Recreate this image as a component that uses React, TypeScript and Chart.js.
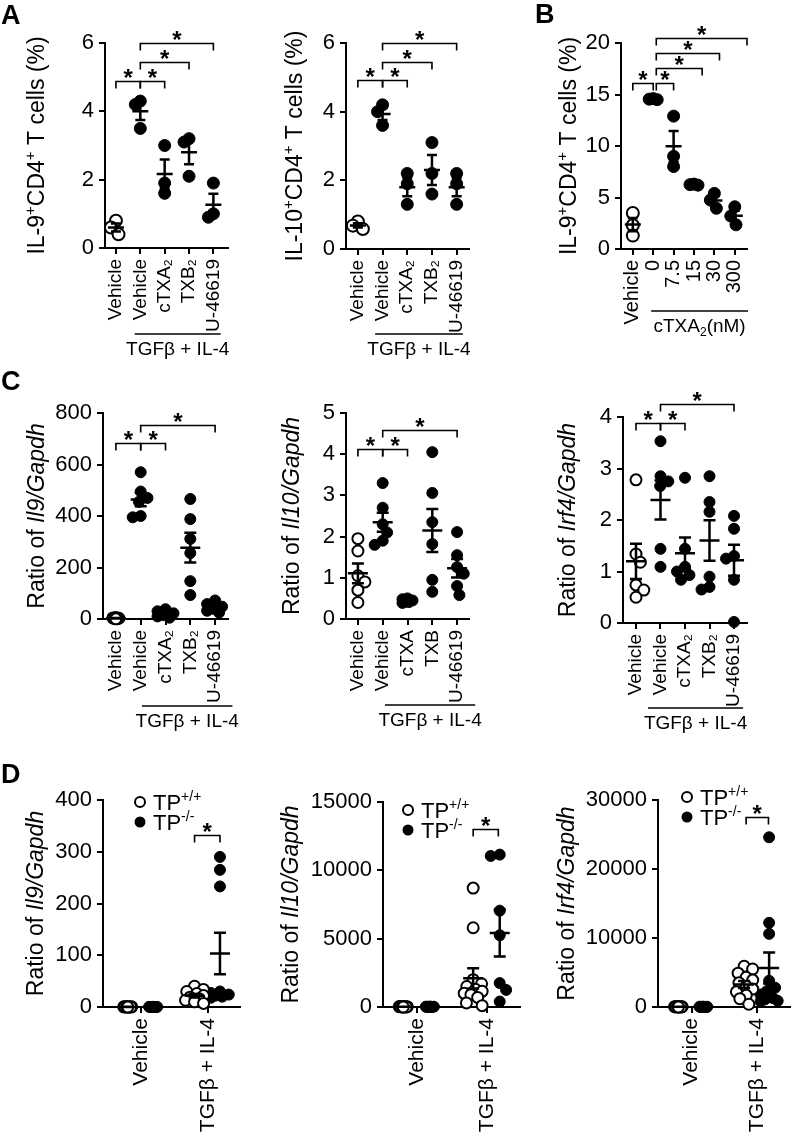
import React, { useEffect, useRef } from "react";
import { Chart, registerables } from "chart.js";

Chart.register(...registerables);

const FONT = "'Liberation Sans', Arial, Helvetica, sans-serif";
Chart.defaults.font.family = FONT;

// ---------- categories / tick labels ----------
const catsTreat = ["Vehicle", "Vehicle", "cTXA₂", "TXB₂", "U-46619"];
const catsTreatC2 = ["Vehicle", "Vehicle", "cTXA", "TXB", "U-46619"];
const catsDose = ["Vehicle", "0", "7.5", "15", "30", "300"];
const catsD = ["Vehicle", "TGFβ + IL-4"];

const yTicksA = [0, 2, 4, 6];
const yTicksB = [0, 5, 10, 15, 20];
const yTicksC1 = [0, 200, 400, 600, 800];
const yTicksC2 = [0, 1, 2, 3, 4, 5];
const yTicksC3 = [0, 1, 2, 3, 4];
const yTicksD1 = [0, 100, 200, 300, 400];
const yTicksD2 = [0, 5000, 10000, 15000];
const yTicksD3 = [0, 10000, 20000, 30000];

// ---------- A left: IL-9+CD4+ T cells (%) ----------
const a1Vehicle = [0.8, 0.6, 0.4];
const a1TgfVehicle = [4.3, 4.2, 3.5];
const a1Ctxa2 = [3.0, 1.9, 1.6];
const a1Txb2 = [3.2, 3.1, 2.1];
const a1U46619 = [1.9, 1.0, 0.9];

// ---------- A right: IL-10+CD4+ T cells (%) ----------
const a2Vehicle = [0.8, 0.68, 0.58];
const a2TgfVehicle = [4.2, 4.0, 3.6];
const a2Ctxa2 = [2.2, 1.9, 1.3];
const a2Txb2 = [3.1, 2.2, 1.6];
const a2U46619 = [2.2, 1.9, 1.3];

// ---------- B: IL-9+CD4+ T cells (%) vs cTXA2 dose ----------
const bVehicle = [3.5, 2.3, 1.3];
const bDose0 = [14.6, 14.55, 14.5];
const bDose7_5 = [12.9, 9.0, 8.0];
const bDose15 = [6.3, 6.25, 6.2];
const bDose30 = [5.4, 4.75, 3.95];
const bDose300 = [4.1, 3.2, 2.35];

// ---------- C left: Il9/Gapdh ----------
const c1Vehicle = [6, 4, 3, 2, 1, 0.5];
const c1TgfVehicle = [570, 495, 470, 455, 400, 395];
const c1Ctxa2 = [38, 30, 22, 15, 10, 5];
const c1Txb2 = [466, 388, 311, 256, 147, 93];
const c1U46619 = [72, 58, 48, 40, 32, 25];

// ---------- C middle: Il10/Gapdh ----------
const c2Vehicle = [1.95, 1.65, 1.05, 0.9, 0.7, 0.4];
const c2TgfVehicle = [3.3, 2.7, 2.3, 2.1, 1.9, 1.8];
const c2Ctxa = [0.5, 0.48, 0.45, 0.43, 0.41, 0.39];
const c2Txb = [4.05, 3.06, 2.35, 1.82, 0.95, 0.66];
const c2U46619 = [2.11, 1.55, 1.26, 1.1, 0.8, 0.58];

// ---------- C right: Irf4/Gapdh ----------
const c3Vehicle = [2.78, 1.34, 1.18, 0.74, 0.64, 0.5];
const c3TgfVehicle = [3.53, 2.85, 2.75, 2.66, 1.44, 1.09];
const c3Ctxa2 = [2.82, 1.44, 1.09, 1.0, 0.93, 0.84];
const c3Txb2 = [2.85, 2.35, 2.16, 0.9, 0.7, 0.65];
const c3U46619 = [2.08, 1.83, 1.3, 1.25, 0.84, 0.02];

// ---------- D left: Il9/Gapdh, TP+/+ vs TP-/- ----------
const d1VehWT = [0.5, 0.4, 0.3, 0.3, 0.2, 0.2, 0.1, 0.1, 0, 0];
const d1VehKO = [0.4, 0.3, 0.2, 0.2, 0.1, 0.1, 0, 0, 0];
const d1TgfWT = [40, 34, 30, 26, 22, 19, 16, 13, 10, 7];
const d1TgfKO = [290, 265, 233, 30, 27, 24, 22, 20, 18];

// ---------- D middle: Il10/Gapdh ----------
const d2VehWT = [40, 30, 25, 20, 15, 10, 8, 5, 2, 0];
const d2VehKO = [35, 25, 20, 15, 10, 5, 2, 0];
const d2TgfWT = [8700, 5800, 2000, 1700, 1500, 1300, 1150, 1000, 900, 700, 300, 100];
const d2TgfKO = [11150, 11050, 7050, 5250, 1750, 1250, 400];

// ---------- D right: Irf4/Gapdh ----------
const d3VehWT = [60, 50, 40, 30, 25, 20, 15, 10, 5, 0];
const d3VehKO = [50, 40, 30, 25, 20, 15, 10, 5, 0];
const d3TgfWT = [5900, 5500, 4900, 4300, 3900, 3500, 3000, 2600, 2200, 1700, 1200, 400];
const d3TgfKO = [24600, 12200, 10600, 3800, 2800, 2300, 1800, 1300, 1100, 900, 800];

// ---------- types & helpers ----------
type Part = { t: string; it?: boolean; sup?: boolean; sub?: boolean };
type Group = { x: number; values: number[]; open?: boolean; spread?: number };
type Panel = {
  id: string;
  box: number[]; // canvas: left, top, width, height (page px)
  area: number[]; // chart area: left, top, right, bottom (page px)
  xMin: number;
  xMax: number;
  xTicks: number[];
  xLabels: string[];
  xFont: number;
  yTicks: number[];
  groups: Group[];
  brackets: number[][];
  title: Part[];
  titleX: number;
  under?: { from: number; to: number; dy: number; parts: Part[] };
  legend?: { x: number; y: number };
  r: number;
  spread: number;
  meanHalf: number;
  capHalf: number;
};

const titleIL = (n: string): Part[] => [
  { t: "IL-" + n },
  { t: "+", sup: true },
  { t: "CD4" },
  { t: "+", sup: true },
  { t: " T cells (%)" },
];
const titleRatio = (gene: string): Part[] => [{ t: "Ratio of " }, { t: gene + "/Gapdh", it: true }];
const tgfParts: Part[] = [{ t: "TGFβ + IL-4" }];

const fontFor = (p: Part, size: number) => {
  const s = p.sup || p.sub ? Math.round(size * 0.65) : size;
  return `${p.it ? "italic " : ""}${s}px ${FONT}`;
};

function drawParts(ctx: any, parts: Part[], x: number, y: number, size: number, align: string) {
  const widths = parts.map((p) => {
    ctx.font = fontFor(p, size);
    return ctx.measureText(p.t).width;
  });
  const total = widths.reduce((a, b) => a + b, 0);
  let cx = align === "center" ? x - total / 2 : x;
  ctx.textAlign = "left";
  ctx.textBaseline = "alphabetic";
  parts.forEach((p, i) => {
    ctx.font = fontFor(p, size);
    const dy = p.sup ? -size * 0.4 : p.sub ? size * 0.22 : 0;
    ctx.fillText(p.t, cx, y + dy);
    cx += widths[i];
  });
}

function swarm(values: number[], pxY: number, pxX: number, r: number, maxPx: number): number[] {
  const d = 2 * r * 0.85;
  const order = values.map((_, i) => i).sort((a, b) => values[b] - values[a]);
  const placed: { x: number; y: number }[] = [];
  const out = new Array(values.length).fill(0);
  for (const i of order) {
    const y = values[i] * pxY;
    const cands = [0];
    for (const p of placed) {
      const dy = Math.abs(p.y - y);
      if (dy < d) {
        const dx = Math.sqrt(d * d - dy * dy);
        cands.push(p.x + dx, p.x - dx);
      }
    }
    const ok = cands.filter(
      (c) => Math.abs(c) <= maxPx + 1e-6 && placed.every((p) => (p.x - c) ** 2 + (p.y - y) ** 2 >= d * d - 1e-6)
    );
    let best = 0;
    if (ok.length) {
      best = ok.sort((a, b) => Math.abs(a) - Math.abs(b))[0];
    } else {
      let score = -1;
      for (let k = 0; k <= 8; k++) {
        const c = -maxPx + (2 * maxPx * k) / 8;
        const s = Math.min(...placed.map((p) => Math.hypot(p.x - c, p.y - y)));
        if (s > score) {
          score = s;
          best = c;
        }
      }
    }
    placed.push({ x: best, y });
    out[i] = best / pxX;
  }
  return out;
}

const stats = (v: number[]) => {
  const n = v.length;
  const m = v.reduce((a, b) => a + b, 0) / n;
  const sd = Math.sqrt(v.reduce((a, b) => a + (b - m) ** 2, 0) / (n - 1));
  return { m, se: sd / Math.sqrt(n) };
};

// ---------- panels ----------
const panels: Panel[] = [
  {
    id: "A1", box: [0, 0, 258, 362], area: [105, 43, 228, 248], xMin: -0.45, xMax: 4.6,
    xTicks: [0, 1, 2, 3, 4], xLabels: catsTreat, xFont: 19, yTicks: yTicksA,
    groups: [
      { x: 0, values: a1Vehicle, open: true }, { x: 1, values: a1TgfVehicle }, { x: 2, values: a1Ctxa2 },
      { x: 3, values: a1Txb2 }, { x: 4, values: a1U46619 },
    ],
    brackets: [[0, 1, 4.9], [1, 2, 4.9], [1, 3, 5.45], [1, 4, 6.0]],
    title: titleIL("9"), titleX: 36,
    under: { from: 0.77, to: 4.3, dy: 86, parts: tgfParts },
    r: 6, spread: 5, meanHalf: 8, capHalf: 5,
  },
  {
    id: "A2", box: [258, 0, 262, 362], area: [346, 43, 469, 249], xMin: -0.48, xMax: 4.5,
    xTicks: [0, 1, 2, 3, 4], xLabels: catsTreat, xFont: 19, yTicks: yTicksA,
    groups: [
      { x: 0, values: a2Vehicle, open: true }, { x: 1, values: a2TgfVehicle }, { x: 2, values: a2Ctxa2 },
      { x: 3, values: a2Txb2 }, { x: 4, values: a2U46619 },
    ],
    brackets: [[0, 1, 4.93], [1, 2, 4.93], [1, 3, 5.45], [1, 4, 6.0]],
    title: titleIL("10"), titleX: 294,
    under: { from: 0.7, to: 4.25, dy: 85, parts: tgfParts },
    r: 6, spread: 5, meanHalf: 8, capHalf: 5,
  },
  {
    id: "B", box: [520, 0, 277, 362], area: [621, 43, 747, 249], xMin: -0.58, xMax: 5.6,
    xTicks: [0, 1, 2, 3, 4, 5], xLabels: catsDose, xFont: 20, yTicks: yTicksB,
    groups: [
      { x: 0, values: bVehicle, open: true }, { x: 1, values: bDose0 }, { x: 2, values: bDose7_5 },
      { x: 3, values: bDose15 }, { x: 4, values: bDose30 }, { x: 5, values: bDose300 },
    ],
    brackets: [[0, 1, 16.1], [1.15, 2, 16.1], [1.15, 3.4, 17.6], [1.15, 4.25, 19.0], [1.15, 5.6, 20.5]],
    title: titleIL("9"), titleX: 568,
    under: { from: 0.9, to: 5.65, dy: 62, parts: [{ t: "cTXA" }, { t: "2", sub: true }, { t: "(nM)" }] },
    r: 6, spread: 4, meanHalf: 8, capHalf: 5,
  },
  {
    id: "C1", box: [0, 362, 258, 390], area: [103, 413, 228, 619], xMin: -0.52, xMax: 4.52,
    xTicks: [0, 1, 2, 3, 4], xLabels: catsTreat, xFont: 19, yTicks: yTicksC1,
    groups: [
      { x: 0, values: c1Vehicle, open: true, spread: 3 }, { x: 1, values: c1TgfVehicle }, { x: 2, values: c1Ctxa2 },
      { x: 3, values: c1Txb2 }, { x: 4, values: c1U46619 },
    ],
    brackets: [[0, 1, 683], [1, 2, 683], [1, 4, 753]],
    title: titleRatio("Il9"), titleX: 36,
    under: { from: 1.05, to: 4.7, dy: 87, parts: tgfParts },
    r: 5.5, spread: 8, meanHalf: 10, capHalf: 6,
  },
  {
    id: "C2", box: [258, 362, 262, 390], area: [346, 413, 469, 619], xMin: -0.48, xMax: 4.48,
    xTicks: [0, 1, 2, 3, 4], xLabels: catsTreatC2, xFont: 19, yTicks: yTicksC2,
    groups: [
      { x: 0, values: c2Vehicle, open: true }, { x: 1, values: c2TgfVehicle }, { x: 2, values: c2Ctxa, spread: 5 },
      { x: 3, values: c2Txb }, { x: 4, values: c2U46619 },
    ],
    brackets: [[0, 1, 4.13], [1, 2, 4.13], [1, 4, 4.59]],
    title: titleRatio("Il10"), titleX: 291,
    under: { from: 1.09, to: 4.73, dy: 86, parts: tgfParts },
    r: 5.5, spread: 8, meanHalf: 10, capHalf: 6,
  },
  {
    id: "C3", box: [520, 362, 277, 390], area: [623, 417, 747, 623], xMin: -0.53, xMax: 4.53,
    xTicks: [0, 1, 2, 3, 4], xLabels: catsTreat, xFont: 19, yTicks: yTicksC3,
    groups: [
      { x: 0, values: c3Vehicle, open: true }, { x: 1, values: c3TgfVehicle }, { x: 2, values: c3Ctxa2 },
      { x: 3, values: c3Txb2 }, { x: 4, values: c3U46619 },
    ],
    brackets: [[0, 1, 3.88], [1, 2, 3.88], [1, 4, 4.25]],
    title: titleRatio("Irf4"), titleX: 567,
    under: { from: 0.49, to: 4.37, dy: 85, parts: tgfParts },
    r: 5.5, spread: 8, meanHalf: 10, capHalf: 6,
  },
  {
    id: "D1", box: [0, 752, 258, 389], area: [103, 800, 240, 1007], xMin: -0.57, xMax: 1.48,
    xTicks: [0, 1], xLabels: catsD, xFont: 21, yTicks: yTicksD1,
    groups: [
      { x: -0.2, values: d1VehWT, open: true, spread: 4 }, { x: 0.18, values: d1VehKO, spread: 4 },
      { x: 0.8, values: d1TgfWT, open: true }, { x: 1.18, values: d1TgfKO },
    ],
    brackets: [[0.8, 1.18, 333]],
    title: titleRatio("Il9"), titleX: 35,
    legend: { x: 140, y: 802 },
    r: 5.5, spread: 9, meanHalf: 10, capHalf: 6,
  },
  {
    id: "D2", box: [258, 752, 270, 389], area: [383, 802, 520, 1007], xMin: -0.49, xMax: 1.47,
    xTicks: [0, 1], xLabels: catsD, xFont: 21, yTicks: yTicksD2,
    groups: [
      { x: -0.2, values: d2VehWT, open: true, spread: 4 }, { x: 0.18, values: d2VehKO, spread: 4 },
      { x: 0.8, values: d2TgfWT, open: true }, { x: 1.18, values: d2TgfKO },
    ],
    brackets: [[0.8, 1.16, 13040]],
    title: titleRatio("Il10"), titleX: 290,
    legend: { x: 408, y: 810 },
    r: 5.5, spread: 9, meanHalf: 10, capHalf: 6,
  },
  {
    id: "D3", box: [528, 752, 269, 389], area: [658, 800, 796, 1007], xMin: -0.51, xMax: 1.49,
    xTicks: [0, 1], xLabels: catsD, xFont: 21, yTicks: yTicksD3,
    groups: [
      { x: -0.2, values: d3VehWT, open: true, spread: 4 }, { x: 0.18, values: d3VehKO, spread: 4 },
      { x: 0.8, values: d3TgfWT, open: true }, { x: 1.18, values: d3TgfKO },
    ],
    brackets: [[0.83, 1.17, 27500]],
    title: titleRatio("Irf4"), titleX: 566,
    legend: { x: 687, y: 797 },
    r: 5.5, spread: 9, meanHalf: 10, capHalf: 6,
  },
];

function makeOverlay(p: Panel) {
  const [bl, bt] = p.box;
  const [, at, , ab] = p.area;
  return {
    id: "overlay" + p.id,
    afterDatasetsDraw(chart: any) {
      const ctx = chart.ctx;
      const xs = chart.scales.x;
      const ys = chart.scales.y;
      ctx.save();
      ctx.strokeStyle = "#000";
      ctx.lineWidth = 2.5;
      p.groups.forEach((g) => {
        const { m, se } = stats(g.values);
        const cx = xs.getPixelForValue(g.x);
        const ym = ys.getPixelForValue(m);
        const yt = ys.getPixelForValue(m + se);
        const yb = ys.getPixelForValue(m - se);
        ctx.beginPath();
        ctx.moveTo(cx - p.meanHalf, ym);
        ctx.lineTo(cx + p.meanHalf, ym);
        ctx.moveTo(cx, yt);
        ctx.lineTo(cx, yb);
        ctx.moveTo(cx - p.capHalf, yt);
        ctx.lineTo(cx + p.capHalf, yt);
        ctx.moveTo(cx - p.capHalf, yb);
        ctx.lineTo(cx + p.capHalf, yb);
        ctx.stroke();
      });
      ctx.restore();
    },
    afterDraw(chart: any) {
      const ctx = chart.ctx;
      const xs = chart.scales.x;
      const ys = chart.scales.y;
      ctx.save();
      ctx.fillStyle = "#000";
      ctx.strokeStyle = "#000";
      // significance brackets
      p.brackets.forEach(([a, b, v]) => {
        const x1 = xs.getPixelForValue(a);
        const x2 = xs.getPixelForValue(b);
        const y = Math.round(ys.getPixelForValue(v)) + 0.5;
        ctx.lineWidth = 1.6;
        ctx.beginPath();
        ctx.moveTo(x1, y + 7);
        ctx.lineTo(x1, y);
        ctx.lineTo(x2, y);
        ctx.lineTo(x2, y + 7);
        ctx.stroke();
        ctx.font = `bold 24px ${FONT}`;
        const mt = ctx.measureText("*");
        const asc = mt.actualBoundingBoxAscent || 17;
        const desc = mt.actualBoundingBoxDescent || -8;
        ctx.textAlign = "center";
        ctx.textBaseline = "alphabetic";
        ctx.fillText("*", (x1 + x2) / 2, y - 8 + (asc - desc) / 2);
      });
      // y-axis title
      const cy = (at + ab) / 2 - bt;
      ctx.save();
      ctx.translate(p.titleX - bl, cy);
      ctx.rotate(-Math.PI / 2);
      drawParts(ctx, p.title, 0, 23 * 0.36, 23, "center");
      ctx.restore();
      // group label under x labels
      if (p.under) {
        const u = p.under;
        const x1 = xs.getPixelForValue(u.from);
        const x2 = xs.getPixelForValue(u.to);
        const y = ab - bt + u.dy;
        ctx.lineWidth = 1.6;
        ctx.beginPath();
        ctx.moveTo(x1, y);
        ctx.lineTo(x2, y);
        ctx.stroke();
        drawParts(ctx, u.parts, (x1 + x2) / 2, y + 21, 19, "center");
      }
      // legend
      if (p.legend) {
        const lx = p.legend.x - bl;
        const ly = p.legend.y - bt;
        ctx.lineWidth = 2;
        ctx.beginPath();
        ctx.arc(lx, ly, p.r - 0.5, 0, Math.PI * 2);
        ctx.fillStyle = "#fff";
        ctx.fill();
        ctx.stroke();
        ctx.fillStyle = "#000";
        ctx.beginPath();
        ctx.arc(lx, ly + 20, p.r, 0, Math.PI * 2);
        ctx.fill();
        drawParts(ctx, [{ t: "TP" }, { t: "+/+", sup: true }], lx + 13, ly + 8, 22, "left");
        drawParts(ctx, [{ t: "TP" }, { t: "-/-", sup: true }], lx + 13, ly + 28, 22, "left");
      }
      ctx.restore();
    },
  };
}

function PanelChart({ p }: { p: Panel }) {
  const ref = useRef<HTMLCanvasElement>(null);
  const [bl, bt, bw, bh] = p.box;
  const [al, at, ar, ab] = p.area;
  useEffect(() => {
    const yMax = p.yTicks[p.yTicks.length - 1];
    const pxX = (ar - al) / (p.xMax - p.xMin);
    const pxY = (ab - at) / yMax;
    const datasets = p.groups.map((g) => {
      const jit = swarm(g.values, pxY, pxX, p.r, g.spread ?? p.spread);
      return {
        data: g.values.map((v, i) => ({ x: g.x + jit[i], y: v })),
        pointRadius: p.r,
        pointHoverRadius: p.r,
        pointBackgroundColor: g.open ? "#fff" : "#000",
        pointBorderColor: "#000",
        pointBorderWidth: g.open ? 2 : 1,
        showLine: false,
        clip: false,
      };
    });
    const axisCommon = {
      grid: { display: true, drawOnChartArea: false, drawTicks: true, tickLength: 6, color: "#000", lineWidth: 2 },
      border: { display: true, color: "#000", width: 2 },
    };
    const chart = new Chart(ref.current as any, {
      type: "scatter",
      data: { datasets } as any,
      options: {
        responsive: false,
        animation: false,
        devicePixelRatio: 1,
        events: [],
        layout: { padding: { left: 0, top: at - bt, right: bl + bw - ar, bottom: 0 } },
        plugins: { legend: { display: false }, tooltip: { enabled: false } },
        scales: {
          x: {
            type: "linear",
            min: p.xMin,
            max: p.xMax,
            afterBuildTicks: (s: any) => {
              s.ticks = p.xTicks.map((v) => ({ value: v }));
            },
            afterFit: (s: any) => {
              s.height = bt + bh - ab;
            },
            ticks: {
              autoSkip: false,
              minRotation: 90,
              maxRotation: 90,
              padding: 5,
              color: "#000",
              font: { family: FONT, size: p.xFont },
              callback: (_v: any, i: number) => p.xLabels[i],
            },
            ...axisCommon,
          },
          y: {
            type: "linear",
            min: 0,
            max: yMax,
            afterBuildTicks: (s: any) => {
              s.ticks = p.yTicks.map((v) => ({ value: v }));
            },
            afterFit: (s: any) => {
              s.width = al - bl;
            },
            ticks: {
              padding: 5,
              color: "#000",
              font: { family: FONT, size: 22 },
              callback: (v: any) => String(v),
            },
            ...axisCommon,
          },
        },
      } as any,
      plugins: [makeOverlay(p)],
    });
    return () => chart.destroy();
  }, []);
  return (
    <canvas
      ref={ref}
      width={bw}
      height={bh}
      style={{ position: "absolute", left: bl, top: bt, width: bw, height: bh }}
    />
  );
}

const letters = [
  { t: "A", x: 1, y: 2 },
  { t: "B", x: 535, y: 1 },
  { t: "C", x: 1, y: 368 },
  { t: "D", x: 1, y: 761 },
];

export default function App() {
  return (
    <div
      style={{
        position: "absolute",
        left: 0,
        top: 0,
        width: 797,
        height: 1141,
        background: "#fff",
        overflow: "hidden",
        fontFamily: FONT,
      }}
    >
      {panels.map((p) => (
        <PanelChart key={p.id} p={p} />
      ))}
      {letters.map((l) => (
        <div
          key={l.t}
          style={{
            position: "absolute",
            left: l.x,
            top: l.y,
            fontSize: 27,
            fontWeight: "bold",
            lineHeight: 1,
            color: "#000",
          }}
        >
          {l.t}
        </div>
      ))}
    </div>
  );
}
